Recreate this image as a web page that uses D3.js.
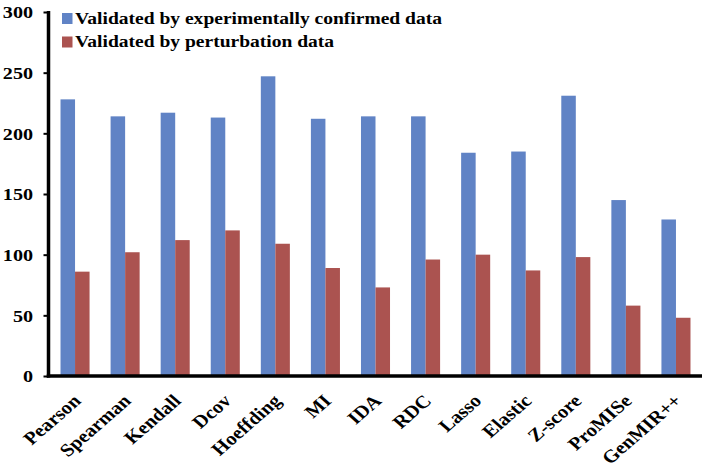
<!DOCTYPE html>
<html><head><meta charset="utf-8">
<script src="https://cdn.jsdelivr.net/npm/d3@7"></script>
<style>
body{margin:0;background:#fff;}
svg text{font-family:"Liberation Serif","Times New Roman",serif !important;font-weight:bold;fill:#000;}
</style></head>
<body><svg id="chart" width="706" height="468"></svg>
<script>
const categories = ["Pearson","Spearman","Kendall","Dcov","Hoeffding","MI","IDA","RDC","Lasso","Elastic","Z-score","ProMISe","GenMIR++"];
const seriesNames = ["Validated by experimentally confirmed data","Validated by perturbation data"];
const experimental = [228, 214, 217, 213, 247, 212, 214, 214, 184, 185, 231, 145, 129];
const perturbation = [86, 102, 112, 120, 109, 89, 73, 96, 100, 87, 98, 58, 48];
const yTicks = [0, 50, 100, 150, 200, 250, 300];
const colors = ["#6083C5", "#AB5350"];
const SX = 1.15; // horizontal text stretch seen in the reference

const svg = d3.select("#chart");
const x0 = d3.scaleBand().domain(categories).range([50, 701]).paddingInner(0.42).paddingOuter(0.21);
const x1 = d3.scaleBand().domain([0,1]).range([0, x0.bandwidth()]);
const y = d3.scaleLinear().domain([0, 300]).range([376, 12]);

const data = [experimental, perturbation];
data.forEach((vals, s) => {
  svg.append("g").selectAll("rect").data(vals).join("rect")
    .attr("x", (d,i) => x0(categories[i]) + x1(s))
    .attr("width", x1.bandwidth())
    .attr("y", d => y(d))
    .attr("height", d => y(0) - y(d))
    .attr("fill", colors[s]);
});

// y axis
const yAxis = svg.append("g").attr("transform", "translate(48.5,0)")
  .call(d3.axisLeft(y).tickValues(yTicks).tickSize(5).tickSizeOuter(0).tickPadding(0));
yAxis.select(".domain").attr("stroke", "#000").attr("stroke-width", 3.5)
  .attr("d", `M0,${y(300)-1}V${y(0)+1.5}`);
yAxis.selectAll(".tick line").attr("stroke", "#000").attr("stroke-width", 2);
yAxis.selectAll(".tick text")
  .attr("x", -15.5 / SX)
  .attr("transform", `scale(${SX},1)`)
  .attr("dy", "0.34em")
  .style("font-size", "17.5px");

// x axis line
svg.append("line").attr("x1", 46.75).attr("x2", 702).attr("y1", y(0)).attr("y2", y(0))
  .attr("stroke", "#000").attr("stroke-width", 3.5);

// x labels
svg.append("g").selectAll("text").data(categories).join("text")
  .attr("transform", d => `translate(${x0(d) + x0.bandwidth()/2 + 7},402) scale(${SX},1) rotate(-45)`)
  .attr("text-anchor", "end")
  .style("font-size", "18px")
  .text(d => d);

// legend
const leg = svg.append("g");
seriesNames.forEach((n, i) => {
  leg.append("rect").attr("x", 62).attr("y", 13 + i*23.5).attr("width", 10.5).attr("height", 11).attr("fill", colors[i]);
  leg.append("text").attr("transform", `translate(75,${23.5 + i*23.5}) scale(${SX},1)`)
    .style("font-size", "17px").text(n);
});
</script></body></html>
